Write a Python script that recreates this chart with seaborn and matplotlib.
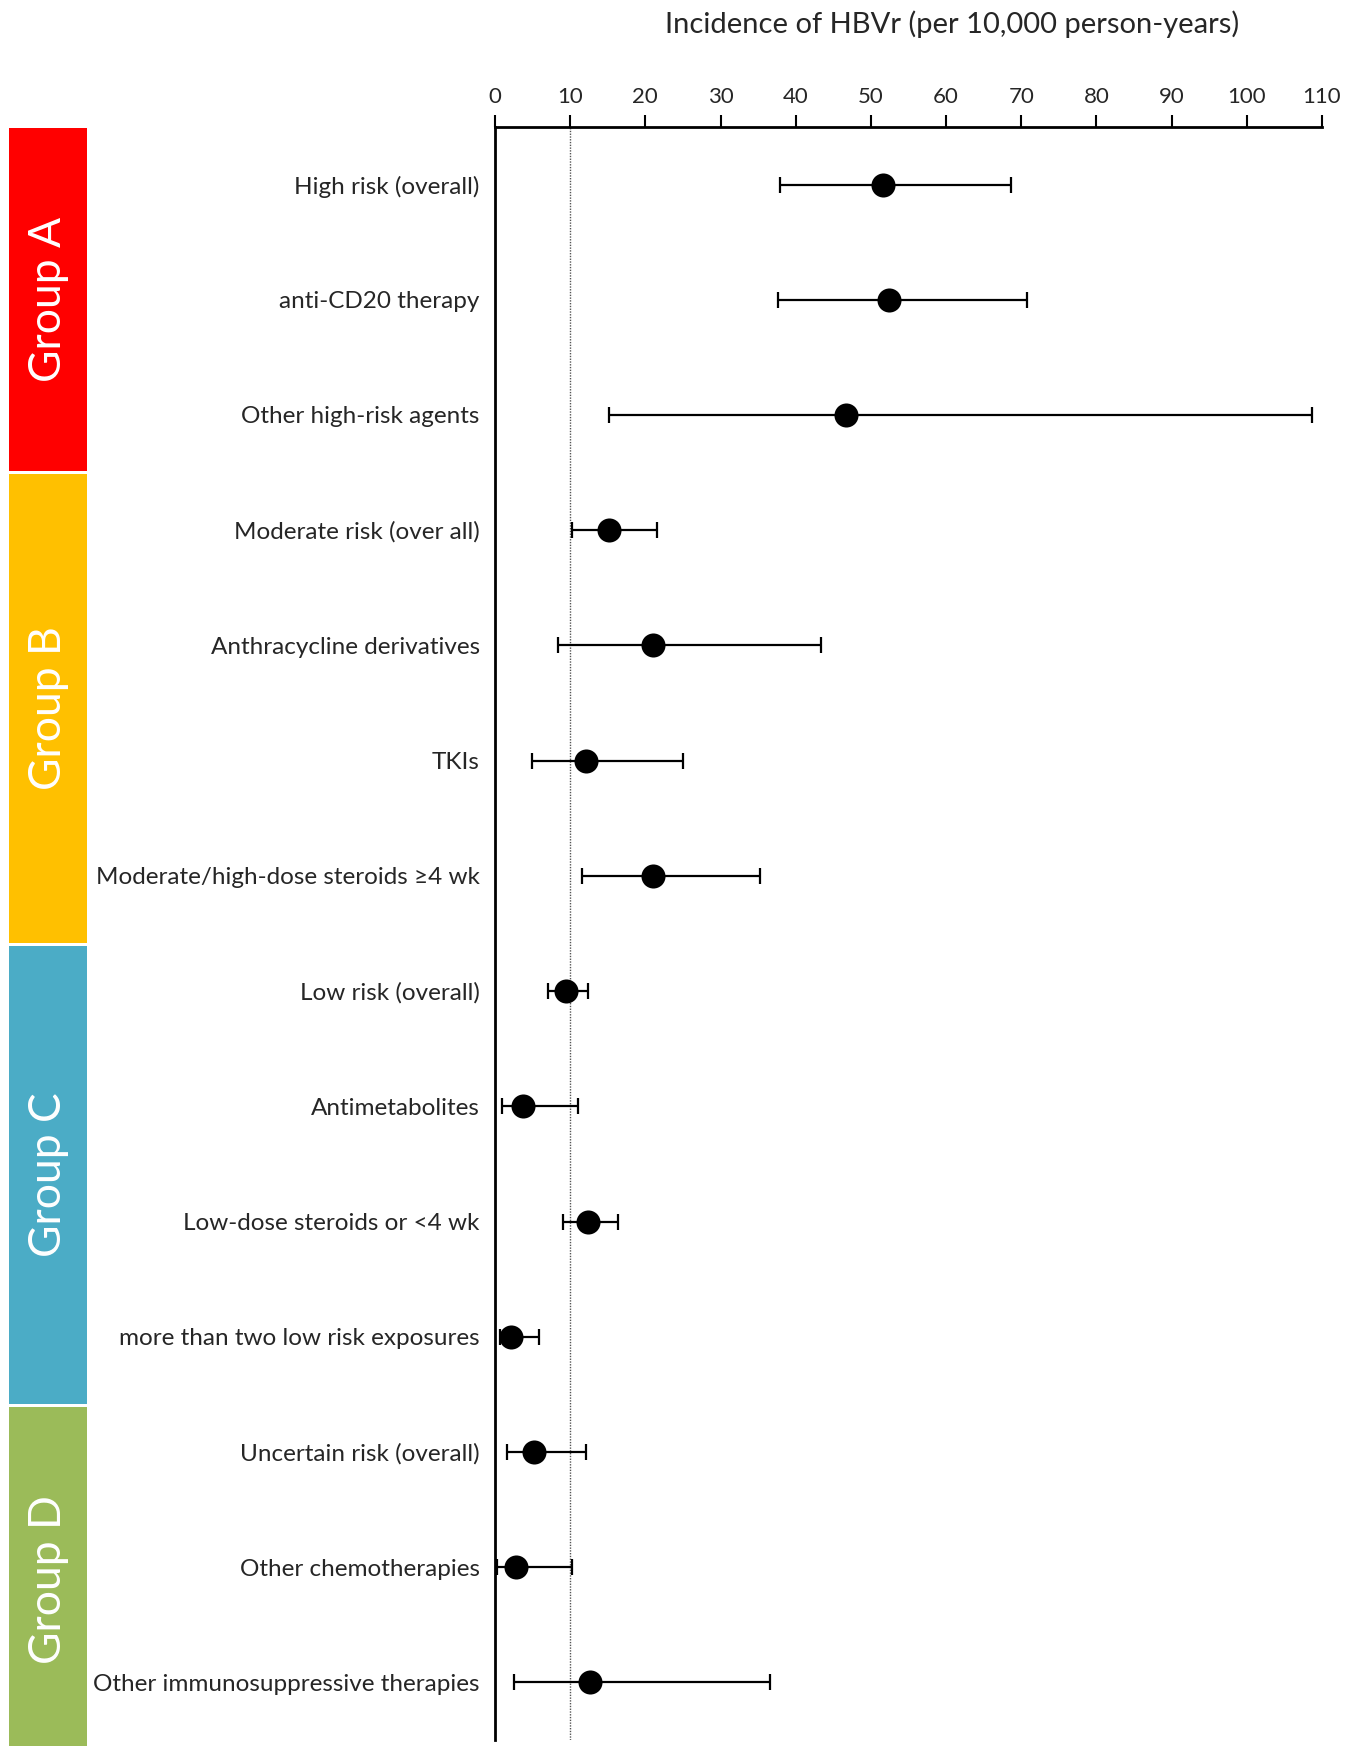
import matplotlib
matplotlib.use("Agg")
import matplotlib.pyplot as plt
import seaborn as sns
import numpy as np
import pandas as pd

categories = [
    "High risk (overall)", "anti-CD20 therapy", "Other high-risk agents",
    "Moderate risk (over all)", "Anthracycline derivatives", "TKIs",
    "Moderate/high-dose steroids \u22654 wk", "Low risk (overall)",
    "Antimetabolites", "Low-dose steroids or <4 wk",
    "more than two low risk exposures", "Uncertain risk (overall)",
    "Other chemotherapies", "Other immunosuppressive therapies",
]
incidence = [51.6, 52.4, 46.7, 15.1, 21.0, 12.1, 21.0, 9.5, 3.7, 12.4, 2.1, 5.2, 2.8, 12.6]
ci_low = [37.9, 37.6, 15.1, 10.2, 8.4, 4.9, 11.6, 7.0, 0.9, 9.0, 0.6, 1.6, 0.3, 2.5]
ci_high = [68.6, 70.8, 108.7, 21.6, 43.3, 25.0, 35.3, 12.4, 11.0, 16.4, 5.9, 12.1, 10.2, 36.6]

groups = ["Group A", "Group B", "Group C", "Group D"]
group_colors = ["#FF0000", "#FFC000", "#4BACC6", "#9BBB59"]
xticks = [0, 10, 20, 30, 40, 50, 60, 70, 80, 90, 100, 110]
reference_line = 10

sns.set_theme(style="white")
plt.rcParams["font.family"] = ["Lato", "DejaVu Sans"]

df = pd.DataFrame({"label": categories, "inc": incidence, "lo": ci_low, "hi": ci_high})
df["row"] = np.arange(len(df))

fig = plt.figure(figsize=(13.58, 17.46), dpi=100)
ax_bottom, ax_top = 0.0034, 0.9273
ax = fig.add_axes([0.3645, ax_bottom, 0.609, ax_top - ax_bottom])

ax.errorbar(df["inc"], df["row"],
            xerr=[df["inc"] - df["lo"], df["hi"] - df["inc"]],
            fmt="none", ecolor="black", elinewidth=1.6, capsize=5.5, capthick=1.6, zorder=2)
sns.scatterplot(data=df, x="inc", y="row", ax=ax, color="black", s=300,
                edgecolor="black", linewidth=0, zorder=3, legend=False)
ax.axvline(reference_line, color="#555555", lw=1, ls=(0, (1, 1)), zorder=1)

ax.set_xlim(0, 110)
ax.set_ylim(len(df) - 0.5, -0.5)
ax.set_xticks(xticks)
ax.set_xticklabels([str(t) for t in xticks], fontsize=16)
ax.xaxis.tick_top()
ax.tick_params(axis="x", direction="out", length=9, width=1.5, color="black", pad=5.5, top=True, bottom=False)
ax.set_yticks(df["row"])
ax.set_yticklabels(df["label"], fontsize=17.5)
ax.tick_params(axis="y", length=0, pad=11)
ax.set_xlabel("")
ax.set_ylabel("")
for s in ["right", "bottom"]:
    ax.spines[s].set_visible(False)
for s in ["left", "top"]:
    ax.spines[s].set_color("black")
    ax.spines[s].set_linewidth(2)

fig.text(0.701, 0.986, "Incidence of HBVr (per 10,000 person-years)", fontsize=21,
         ha="center", va="center")

# group bars, in the same row units as the main axes (spans)
group_top = [-0.49, 2.51, 6.61, 10.61]
group_bottom = [2.49, 6.58, 10.58, 13.6]
gax = fig.add_axes([0.0066, 0.0, 0.0575, ax_top])
rows_per_frac = (len(df)) / (ax_top - ax_bottom)
gax.set_ylim(-0.5 + ax_top * rows_per_frac, -0.5)
gax.set_xlim(0, 1)
for g, t, b, c in zip(groups, group_top, group_bottom, group_colors):
    gax.barh((t + b) / 2, 1, height=b - t, left=0, color=c, edgecolor="none")
    gax.text(0.5, (t + b) / 2, g, rotation=90, color="white", fontsize=32,
             ha="center", va="center")
gax.axis("off")

fig.savefig("out.png", dpi=100, facecolor="white")
